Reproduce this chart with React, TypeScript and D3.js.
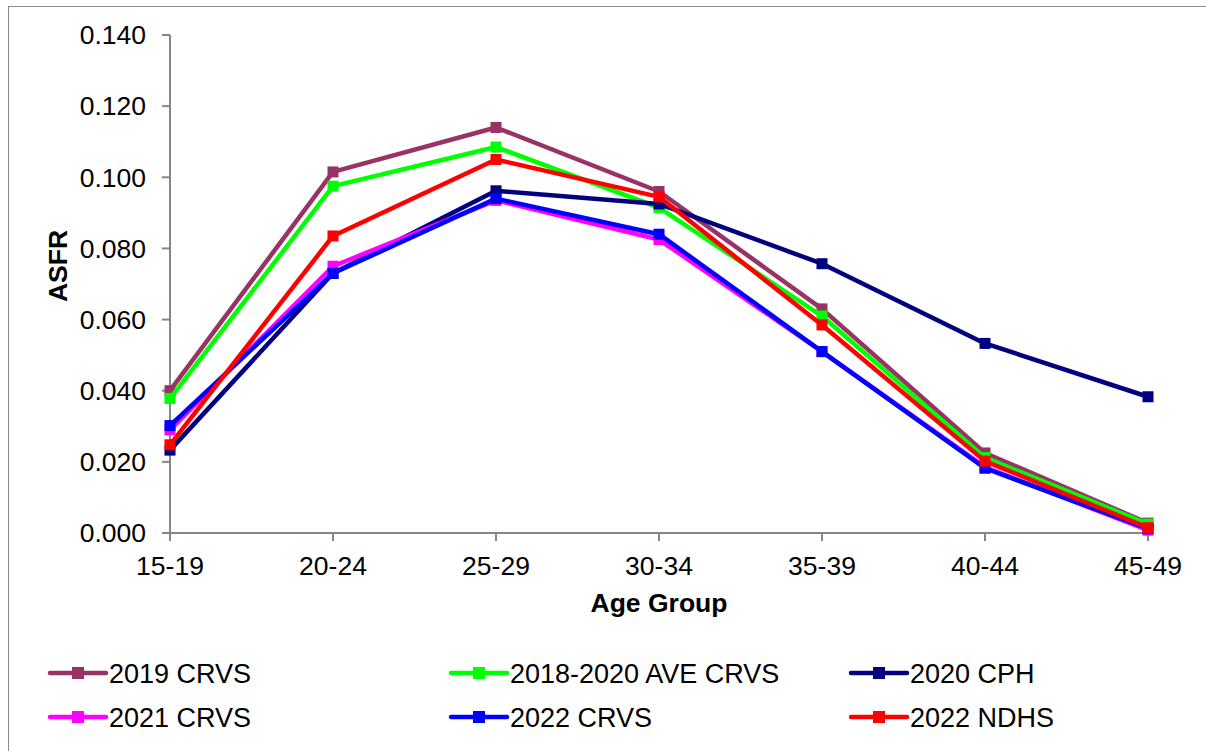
import React from "react";
import * as d3 from "d3";

const ageGroups = ["15-19", "20-24", "25-29", "30-34", "35-39", "40-44", "45-49"];
const yTicks = [0, 0.02, 0.04, 0.06, 0.08, 0.1, 0.12, 0.14];

const crvs2019 = [0.0400, 0.1015, 0.1140, 0.0960, 0.0630, 0.0225, 0.0028];
const aveCrvs = [0.0378, 0.0975, 0.1085, 0.0915, 0.0610, 0.0212, 0.0025];
const cph2020 = [0.0233, 0.0730, 0.0962, 0.0925, 0.0757, 0.0533, 0.0383];
const crvs2021 = [0.0290, 0.0750, 0.0935, 0.0825, 0.0510, 0.0185, 0.0008];
const crvs2022 = [0.0302, 0.0730, 0.0940, 0.0840, 0.0510, 0.0182, 0.0012];
const ndhs2022 = [0.0248, 0.0835, 0.1050, 0.0945, 0.0585, 0.0202, 0.0015];

const seriesNames = ["2019 CRVS", "2018-2020 AVE CRVS", "2020 CPH", "2021 CRVS", "2022 CRVS", "2022 NDHS"];
const seriesValues = [crvs2019, aveCrvs, cph2020, crvs2021, crvs2022, ndhs2022];
const seriesColors = ["#993366", "#00ff00", "#000080", "#ff00ff", "#0000ff", "#ff0000"];

const W = 1206;
const H = 751;
const plot = { left: 170, right: 1148, top: 35, bottom: 533 };
const FONT = "'Liberation Sans', Arial, sans-serif";
const FS = 26.5;

export default function App() {
  const x = d3.scalePoint<string>().domain(ageGroups).range([plot.left, plot.right]);
  const y = d3.scaleLinear().domain([0, 0.14]).range([plot.bottom, plot.top]);
  const line = d3
    .line<number>()
    .x((_, i) => x(ageGroups[i]) as number)
    .y((v) => y(v));

  const legendCols = [50, 451, 851];
  const legendRows = [673, 717];

  return (
    <svg
      width={W}
      height={H}
      style={{ position: "absolute", left: 0, top: 0, background: "#fff" }}
      fontFamily={FONT}
    >
      <rect x={8.5} y={6.5} width={1300} height={800} fill="#fff" stroke="#8c8c8c" strokeWidth={1} />

      {/* y axis */}
      <line x1={plot.left} x2={plot.left} y1={plot.top} y2={plot.bottom} stroke="#868686" strokeWidth={2} />
      {yTicks.map((t) => (
        <g key={t}>
          <line x1={plot.left - 8} x2={plot.left} y1={y(t)} y2={y(t)} stroke="#868686" strokeWidth={2} />
          <text x={plot.left - 24} y={y(t)} dy="0.35em" textAnchor="end" fontSize={FS} fill="#000">
            {d3.format(".3f")(t)}
          </text>
        </g>
      ))}

      {/* x axis */}
      <line x1={plot.left} x2={plot.right} y1={plot.bottom} y2={plot.bottom} stroke="#868686" strokeWidth={2} />
      {ageGroups.map((g) => (
        <g key={g}>
          <line x1={x(g)} x2={x(g)} y1={plot.bottom} y2={plot.bottom + 8} stroke="#868686" strokeWidth={2} />
          <text x={x(g)} y={plot.bottom + 42} textAnchor="middle" fontSize={FS} fill="#000">
            {g}
          </text>
        </g>
      ))}

      <text x={(plot.left + plot.right) / 2} y={612} textAnchor="middle" fontSize={FS} fontWeight="bold">
        Age Group
      </text>
      <text
        transform={`translate(67, ${(plot.top + plot.bottom) / 2 - 18}) rotate(-90)`}
        textAnchor="middle"
        fontSize={FS}
        fontWeight="bold"
      >
        ASFR
      </text>

      {/* series */}
      {seriesValues.map((vals, si) => (
        <g key={seriesNames[si]}>
          <path d={line(vals) ?? ""} fill="none" stroke={seriesColors[si]} strokeWidth={4.5} strokeLinejoin="round" />
          {vals.map((v, i) => (
            <rect
              key={i}
              x={(x(ageGroups[i]) as number) - 5.5}
              y={y(v) - 5.5}
              width={11}
              height={11}
              fill={seriesColors[si]}
            />
          ))}
        </g>
      ))}

      {/* legend */}
      {seriesNames.map((name, si) => {
        const lx = legendCols[si % 3];
        const ly = legendRows[Math.floor(si / 3)];
        return (
          <g key={name}>
            <line x1={lx} x2={lx + 56} y1={ly} y2={ly} stroke={seriesColors[si]} strokeWidth={4.5} strokeLinecap="round" />
            <rect x={lx + 28 - 6} y={ly - 6} width={12} height={12} fill={seriesColors[si]} />
            <text x={lx + 59} y={ly} dy="0.36em" fontSize={27} fill="#000">
              {name}
            </text>
          </g>
        );
      })}
    </svg>
  );
}
